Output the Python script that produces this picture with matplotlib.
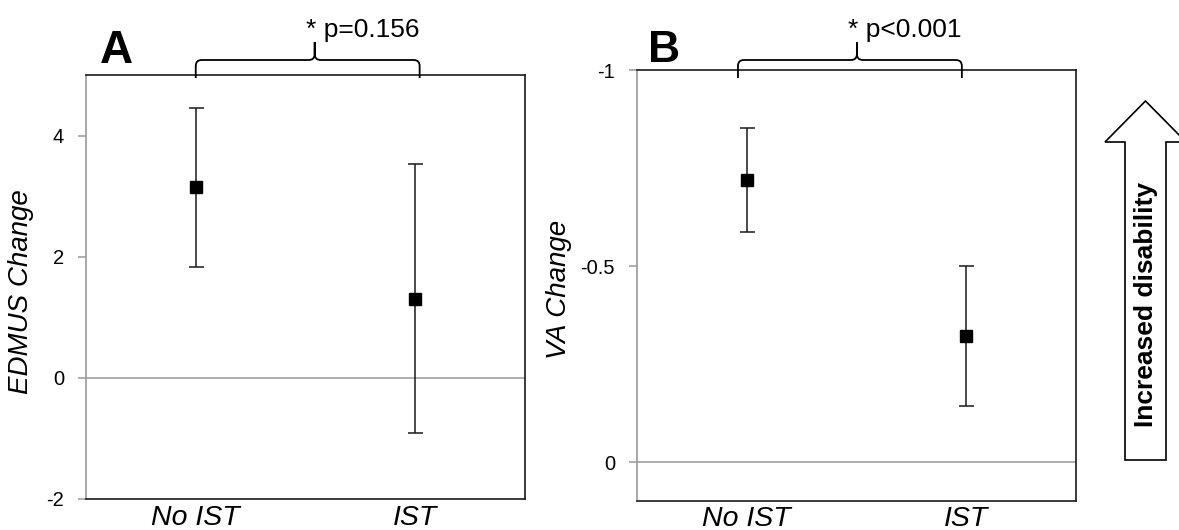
import matplotlib
matplotlib.use("Agg")
import matplotlib.pyplot as plt
from matplotlib.path import Path
from matplotlib.patches import PathPatch, Polygon
from matplotlib.transforms import IdentityTransform

plt.rcParams['font.family'] = ['Liberation Sans', 'DejaVu Sans']
plt.rcParams['axes.unicode_minus'] = False

W, H = 1179, 530

# data
groups = ['No IST', 'IST']
edmus_mean = [3.15, 1.31]
edmus_low = [1.84, -0.91]
edmus_high = [4.46, 3.54]
edmus_ticks = [-2, 0, 2, 4]

va_mean = [-0.72, -0.323]
va_low = [-0.589, -0.146]
va_high = [-0.852, -0.503]
va_ticks = [-1, -0.5, 0]
va_ticklabels = ['-1', '-0.5', '0']

p_text_a = '* p=0.156'
p_text_b = '* p<0.001'

GRAY = '#999999'
DARK = '#1a1a1a'


def fig_y(y_px):
    # pixel row from top -> display y
    return H - y_px


def style_axes(ax):
    for side in ['top', 'right', 'bottom']:
        ax.spines[side].set_color(DARK)
        ax.spines[side].set_linewidth(1.2)
    ax.spines['left'].set_color(GRAY)
    ax.spines['left'].set_linewidth(1.2)
    ax.tick_params(axis='y', direction='out', length=5.8, width=1.1,
                   color=GRAY, pad=10, labelsize=14.5)
    ax.tick_params(axis='x', length=0, pad=4)
    ax.set_xlim(-0.5, 1.5)
    ax.set_xticks(range(len(groups)))
    ax.set_xticklabels(groups, fontsize=20.5, style='italic')
    ax.axhline(0, color=GRAY, lw=1.1, zorder=1)


def errbars(ax, mean, low, high):
    x = list(range(len(groups)))
    lower = [abs(m - l) for m, l in zip(mean, low)]
    upper = [abs(h - m) for m, h in zip(mean, high)]
    ax.errorbar(x, mean, yerr=[lower, upper], fmt='s', color='black',
                ecolor=DARK, elinewidth=1.1, capsize=5.4, capthick=1.1,
                markersize=9, zorder=3)


def brace(fig, ax, x0, x1, text, y_end=78, y_bar=60, y_tip=42, r=6):
    xa = ax.transData.transform((x0, 0))[0]
    xb = ax.transData.transform((x1, 0))[0]
    xm = (xa + xb) / 2 + 7
    ye, yb, yt = fig_y(y_end), fig_y(y_bar), fig_y(y_tip)
    verts = [(xa, ye), (xa, yb - r), (xa, yb), (xa + r, yb),
             (xm - r, yb), (xm, yb), (xm, yb + r), (xm, yt),
             (xm, yb + r), (xm, yb), (xm + r, yb),
             (xb - r, yb), (xb, yb), (xb, yb - r), (xb, ye)]
    codes = [Path.MOVETO, Path.LINETO, Path.CURVE3, Path.CURVE3,
             Path.LINETO, Path.CURVE3, Path.CURVE3, Path.LINETO,
             Path.LINETO, Path.CURVE3, Path.CURVE3,
             Path.LINETO, Path.CURVE3, Path.CURVE3, Path.LINETO]
    patch = PathPatch(Path(verts, codes), fill=False, ec='black', lw=1.3,
                      transform=IdentityTransform(), clip_on=False)
    fig.add_artist(patch)
    fig.text((xm - 9) / W, 1 - 37 / H, text, fontsize=19,
             ha='left', va='baseline')


fig = plt.figure(figsize=(W / 100, H / 100), dpi=100)

# panel A
axA = fig.add_axes([86 / W, 1 - 499 / H, 439 / W, (499 - 75.3) / H])
style_axes(axA)
axA.set_ylim(-2, 5)
axA.set_yticks(edmus_ticks)
axA.set_yticklabels([str(t) for t in edmus_ticks])
errbars(axA, edmus_mean, edmus_low, edmus_high)
axA.set_ylabel('EDMUS Change', fontsize=20, style='italic')
axA.yaxis.set_label_coords(-0.118, 0.49)

# panel B (inverted)
axB = fig.add_axes([637 / W, 1 - 500.7 / H, 439 / W, (500.7 - 70) / H])
style_axes(axB)
axB.set_ylim(0.098, -1)
axB.set_yticks(va_ticks)
axB.set_yticklabels(va_ticklabels)
errbars(axB, va_mean, va_low, va_high)
axB.set_ylabel('VA Change', fontsize=20, style='italic')
axB.yaxis.set_label_coords(-0.148, 0.49)

# panel letters
fig.text(100 / W, 1 - 63 / H, 'A', fontsize=33, fontweight='bold',
         ha='left', va='baseline')
fig.text(648 / W, 1 - 62 / H, 'B', fontsize=32, fontweight='bold',
         ha='left', va='baseline')

brace(fig, axA, 0.0, 1.02, p_text_a)
brace(fig, axB, -0.04, 0.98, p_text_b)

# "Increased disability" arrow
arrow_px = [(1125, 460), (1166, 460), (1166, 142), (1186, 142),
            (1145.5, 101), (1105, 142), (1125, 142)]
arrow = Polygon([(x / W, 1 - y / H) for x, y in arrow_px], closed=True,
                fc='white', ec='black', lw=1.2, transform=fig.transFigure)
fig.add_artist(arrow)
fig.text(1145.5 / W, 1 - 304.5 / H, 'Increased disability', fontsize=19,
         fontweight='bold', rotation=90, ha='center', va='center')

fig.savefig('out.png', dpi=100)
